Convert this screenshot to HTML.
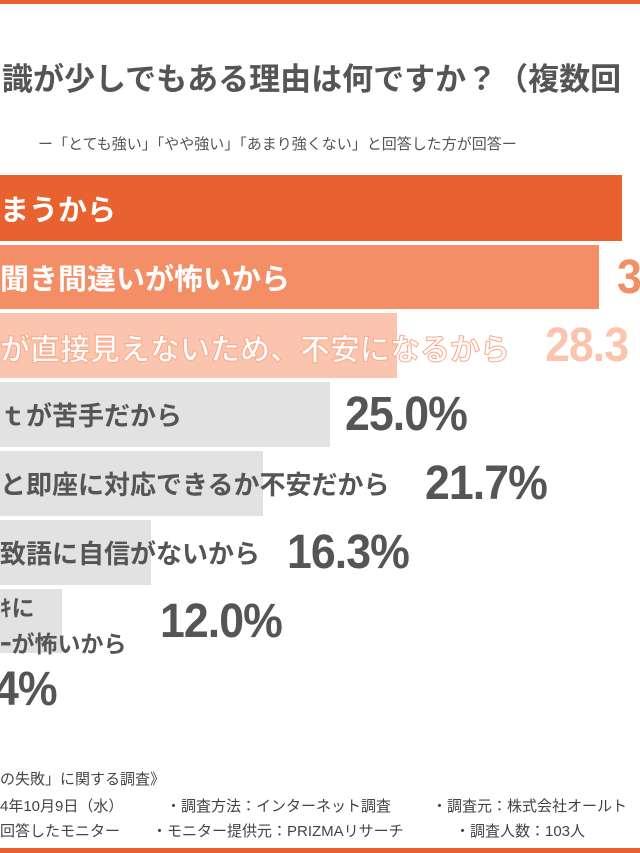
<!DOCTYPE html>
<html><head><meta charset="utf-8"><style>
body{margin:0;width:640px;height:853px;overflow:hidden;background:#fff;position:relative;font-family:"Liberation Sans","Noto Sans CJK JP",sans-serif;color:#555}
.a{position:absolute;white-space:nowrap}
.bar{position:absolute;left:0}
.lab{font-size:26px;font-weight:bold;font-family:"Noto Sans CJK JP",sans-serif}
.pct{font-size:48px;font-weight:bold;letter-spacing:-1px;color:#555;transform:scaleX(0.93);transform-origin:left;font-family:"Liberation Sans",sans-serif}
.ft{font-size:15px;color:#444;font-family:"Liberation Sans","Noto Sans CJK JP",sans-serif}
</style></head><body>
<div class="a" style="left:0;top:0;width:640px;height:4px;background:#e8622f"></div>
<div class="a" style="left:0;top:848px;width:640px;height:5px;background:#e8622f"></div>
<div class="a" style="left:2px;top:54px;font-size:31px;font-weight:bold;color:#555;font-family:'Noto Sans CJK JP',sans-serif">識が少しでもある理由は何ですか？（複数回</div>
<div class="a" style="left:38px;top:133px;font-size:15px;color:#555;font-family:'Noto Sans CJK JP',sans-serif">ー「とても強い」「やや強い」「あまり強くない」と回答した方が回答ー</div>

<div class="bar" style="top:175px;width:622px;height:66px;background:#e8622f"></div>
<div class="a lab" style="left:0;top:187px;color:#fff;font-size:29px">まうから</div>

<div class="bar" style="top:245px;width:599px;height:64px;background:#f48e66"></div>
<div class="a lab" style="left:0;top:256px;color:#fff;font-size:29px">聞き間違いが怖いから</div>
<div class="a pct" style="left:617px;top:250px;color:#f48e66">3</div>

<div class="bar" style="top:313px;width:397px;height:65px;background:#fbc4ae"></div>
<div class="a lab" style="left:0;top:325px;color:#fff;font-size:30px;-webkit-text-stroke:1px #f8a98a">が直接見えないため、不安になるから</div>
<div class="a pct" style="left:545px;top:318px;color:#fbc4ae">28.3</div>

<div class="bar" style="top:382px;width:330px;height:65px;background:#e2e2e2"></div>
<div class="a lab" style="left:0;top:396px">ｔが苦手だから</div>
<div class="a pct" style="left:345px;top:387px">25.0%</div>

<div class="bar" style="top:451px;width:263px;height:65px;background:#e2e2e2"></div>
<div class="a lab" style="left:0;top:465px">と即座に対応できるか不安だから</div>
<div class="a pct" style="left:425px;top:456px">21.7%</div>

<div class="bar" style="top:520px;width:151px;height:65px;background:#e2e2e2"></div>
<div class="a lab" style="left:0;top:534px">致語に自信がないから</div>
<div class="a pct" style="left:287px;top:525px">16.3%</div>

<div class="bar" style="top:589px;width:62px;height:64px;background:#e2e2e2"></div>
<div class="a" style="left:0;top:588px;font-size:23px;font-weight:bold;line-height:36px;font-family:'Noto Sans CJK JP',sans-serif">ｷに<br>ｰが怖いから</div>
<div class="a pct" style="left:160px;top:594px">12.0%</div>

<div class="a pct" style="left:-6px;top:662px">4%</div>

<div class="a ft" style="left:0;top:768px">の失敗」に関する調査》</div>
<div class="a ft" style="left:0;top:795px">4年10月9日（水）</div>
<div class="a ft" style="left:166px;top:795px">・調査方法：インターネット調査</div>
<div class="a ft" style="left:432px;top:795px">・調査元：株式会社オールト</div>
<div class="a ft" style="left:0;top:820px">回答したモニター</div>
<div class="a ft" style="left:152px;top:820px">・モニター提供元：PRIZMAリサーチ</div>
<div class="a ft" style="left:455px;top:820px">・調査人数：103人</div>
</body></html>
